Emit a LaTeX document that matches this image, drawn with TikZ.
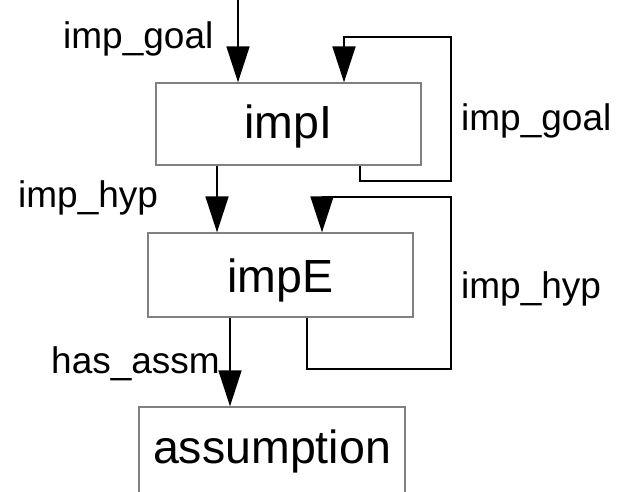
\documentclass[tikz,border=0pt]{standalone}
\usepackage{fontspec}
\setmainfont{Liberation Sans}
\usetikzlibrary{arrows.meta}
\definecolor{boxgray}{RGB}{128,128,128}
\begin{document}
\begin{tikzpicture}[x=1pt,y=-1pt,
  box/.style={draw=boxgray, line width=1.3pt, minimum width=265pt, minimum height=82pt,
    inner sep=0pt, text depth=10pt, font=\fontsize{46.5}{50}\selectfont},
  conn/.style={line width=1.6pt, draw=black},
  arr/.style={conn, -{Triangle[length=36pt,width=23pt]}},
  lab/.style={anchor=base west, inner sep=0pt, font=\fontsize{37}{40}\selectfont}]
\useasboundingbox (0,0) rectangle (628,491);
\clip (0,0) rectangle (628,491);
% boxes
\node[box, text height=38pt] (impI) at (288.5,124) {impI};
\node[box, minimum height=84pt, text height=44pt] (impE) at (280.5,275) {impE};
\node[box, minimum width=266pt, minimum height=88pt, text height=34pt] (assm) at (272,451) {assumption};
% helper coordinates
\coordinate (src) at (238,0);
\coordinate (l1a) at (360,181);
\coordinate (l1b) at (451,37);
\coordinate (l1c) at (344,37);
\coordinate (c1) at (217,0);
\coordinate (l2a) at (307,369);
\coordinate (l2b) at (451,197);
\coordinate (l2c) at (322,197);
\coordinate (c2) at (230,0);
% connectors
\draw[arr] (src) -- (src |- impI.north);
\draw[arr] (impI.south -| l1a) -- (l1a) -| (l1b) -- (l1c) -- (l1c |- impI.north);
\draw[arr] (impI.south -| c1) -- (impE.north -| c1);
\draw[arr] (impE.south -| l2a) -- (l2a) -| (l2b) -- (l2c) -- (l2c |- impE.north);
\draw[arr] (impE.south -| c2) -- (assm.north -| c2);
% labels
\node[lab] (lg1) at (63,48) {imp\_goal};
\node[lab] (lg2) at (461,130) {imp\_goal};
\node[lab] (lh1) at (18,207) {imp\_hyp};
\node[lab] (lh2) at (461,298) {imp\_hyp};
\node[lab] (la) at (51,373) {has\_assm};
\end{tikzpicture}
\end{document}
